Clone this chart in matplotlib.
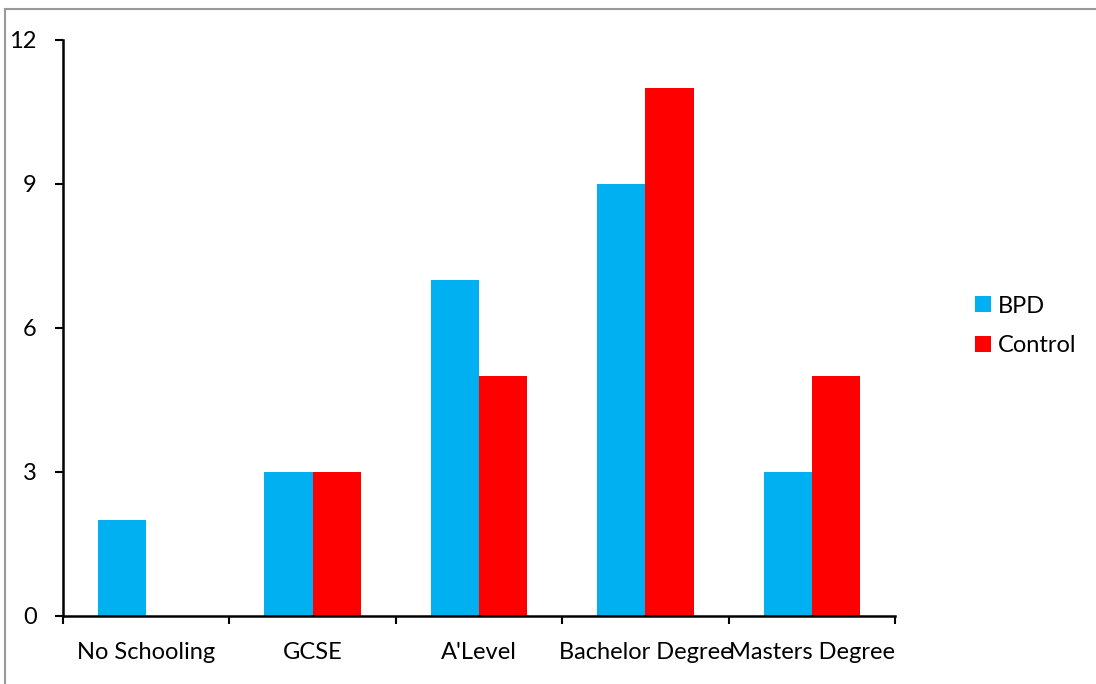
import numpy as np
import matplotlib.pyplot as plt
from matplotlib.patches import Rectangle

categories = ["No Schooling", "GCSE", "A'Level", "Bachelor Degree", "Masters Degree"]
bpd = [2, 3, 7, 9, 3]
control = [0, 3, 5, 11, 5]
yticks = [0, 3, 6, 9, 12]

plt.rcParams['font.family'] = ['Lato', 'DejaVu Sans']
fs = 17

fig = plt.figure(figsize=(10.96, 6.84), dpi=100)
ax = fig.add_axes([63 / 1096, 1 - 616 / 684, 832 / 1096, 576 / 684])

x = np.arange(len(categories))
w = 0.29
ax.bar(x - w / 2, bpd, w, color="#00B0F0", label="BPD")
ax.bar(x + w / 2, control, w, color="#FF0000", label="Control")

ax.set_xlim(-0.5, len(categories) - 0.5)
ax.set_ylim(0, 12)
ax.set_yticks(yticks)
ax.set_yticklabels([str(t) for t in yticks], fontsize=fs)
ax.tick_params(axis="y", length=6, width=1.5, pad=13)

# category labels centred, ticks on category boundaries
ax.set_xticks(np.arange(len(categories) + 1) - 0.5)
ax.set_xticklabels([])
ax.set_xticks(x, minor=True)
ax.set_xticklabels(categories, minor=True, fontsize=fs)
ax.tick_params(axis="x", which="major", length=6, width=1.5, direction="out")
ax.tick_params(axis="x", which="minor", length=0, pad=19)

for s in ["top", "right"]:
    ax.spines[s].set_visible(False)
for s in ["left", "bottom"]:
    ax.spines[s].set_linewidth(1.8)

leg = fig.legend(loc="center left", bbox_to_anchor=(954 / 1096, 1 - 326 / 684),
                 frameon=False, fontsize=fs, handlelength=0.65, handleheight=0.65,
                 handletextpad=0.3, labelspacing=0.8)

# outer chart border
fig.patches.append(Rectangle((5 / 1096, -0.02), 1.1, 1 - 9 / 684 + 0.02,
                             transform=fig.transFigure, fill=False,
                             edgecolor="#999999", linewidth=1.5))

fig.savefig("out.png", dpi=100)
